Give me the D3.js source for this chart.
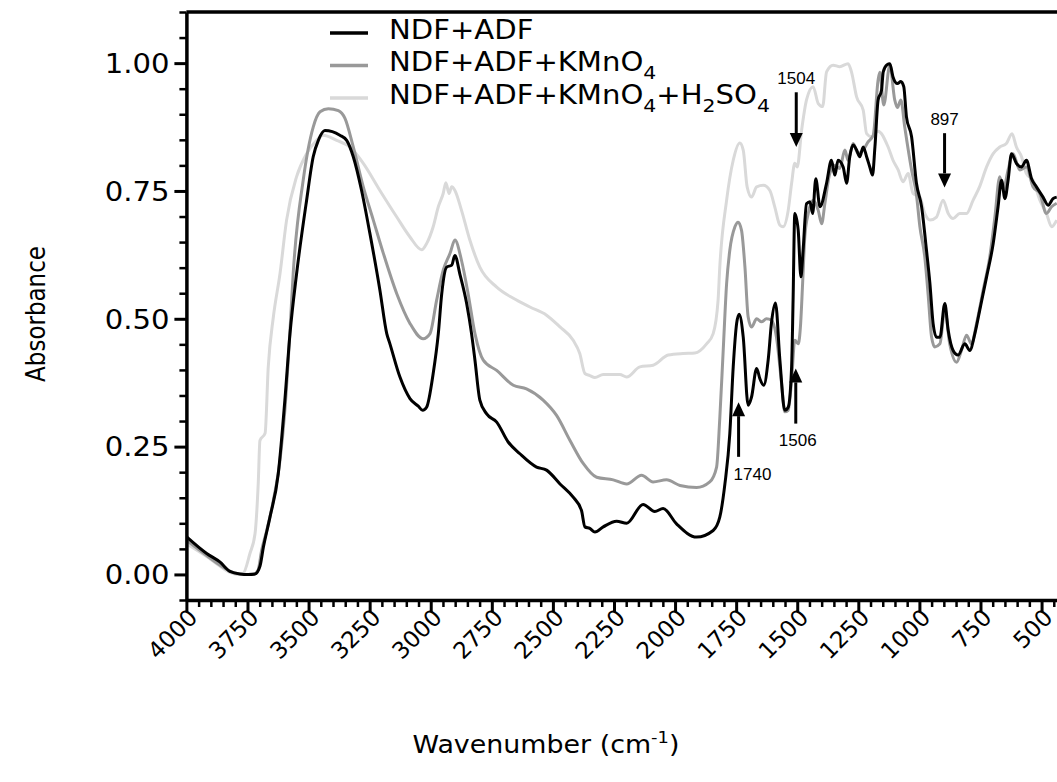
<!DOCTYPE html>
<html>
<head>
<meta charset="utf-8">
<script src="https://cdn.jsdelivr.net/npm/d3@7"></script>
<style>
  body { margin: 0; background: #fff; }
  svg text { font-family: "DejaVu Sans", Verdana, sans-serif; fill: #000; }
</style>
</head>
<body>
<svg id="chart" width="1057" height="782"></svg>
<script>
// spectra: [wavenumber (cm-1), absorbance]
const ndfAdf = [[4000,0.074],[3917,0.041],[3862,0.024],[3822,0.006],[3781,0.001],[3747,0.000],[3719,0.001],[3699,0.016],[3685,0.053],[3658,0.112],[3624,0.197],[3597,0.341],[3576,0.471],[3549,0.588],[3508,0.732],[3481,0.817],[3460,0.849],[3433,0.868],[3372,0.859],[3344,0.849],[3317,0.817],[3283,0.751],[3249,0.667],[3208,0.556],[3180,0.471],[3167,0.451],[3126,0.386],[3085,0.344],[3051,0.329],[3033,0.321],[3017,0.327],[2990,0.393],[2969,0.471],[2955,0.549],[2935,0.601],[2914,0.605],[2901,0.624],[2881,0.588],[2853,0.530],[2833,0.471],[2819,0.419],[2799,0.341],[2771,0.314],[2730,0.298],[2683,0.259],[2635,0.236],[2567,0.210],[2526,0.204],[2471,0.177],[2417,0.151],[2383,0.125],[2369,0.093],[2349,0.090],[2328,0.083],[2294,0.093],[2239,0.104],[2198,0.100],[2131,0.137],[2083,0.123],[2049,0.129],[1994,0.099],[1912,0.073],[1844,0.086],[1817,0.112],[1796,0.177],[1776,0.275],[1762,0.406],[1748,0.491],[1738,0.509],[1721,0.464],[1701,0.331],[1687,0.347],[1666,0.403],[1653,0.383],[1637,0.370],[1619,0.419],[1605,0.494],[1589,0.531],[1571,0.419],[1551,0.321],[1537,0.327],[1523,0.406],[1517,0.536],[1510,0.706],[1496,0.673],[1485,0.582],[1476,0.634],[1462,0.725],[1448,0.729],[1437,0.706],[1424,0.774],[1407,0.719],[1380,0.765],[1360,0.810],[1346,0.781],[1333,0.810],[1312,0.797],[1298,0.765],[1285,0.817],[1271,0.840],[1257,0.830],[1244,0.817],[1230,0.836],[1216,0.817],[1203,0.797],[1192,0.781],[1182,0.836],[1169,0.928],[1155,0.947],[1148,0.983],[1132,0.997],[1121,0.999],[1108,0.973],[1090,0.960],[1076,0.964],[1064,0.954],[1053,0.895],[1032,0.856],[1012,0.765],[991,0.719],[971,0.634],[957,0.569],[944,0.491],[930,0.464],[916,0.464],[896,0.530],[882,0.477],[862,0.438],[842,0.429],[814,0.451],[794,0.438],[773,0.471],[753,0.517],[725,0.582],[698,0.647],[678,0.719],[664,0.771],[650,0.735],[637,0.771],[623,0.823],[603,0.804],[582,0.797],[562,0.810],[541,0.774],[521,0.758],[494,0.738],[473,0.722],[453,0.735],[438,0.738]];

const ndfAdfKmno4 = [[4000,0.067],[3917,0.037],[3862,0.018],[3809,0.004],[3760,0.000],[3727,0.000],[3707,0.008],[3692,0.047],[3671,0.086],[3644,0.145],[3617,0.223],[3597,0.321],[3576,0.477],[3563,0.588],[3522,0.771],[3481,0.875],[3453,0.905],[3419,0.911],[3378,0.907],[3351,0.892],[3317,0.836],[3276,0.758],[3235,0.693],[3194,0.628],[3139,0.549],[3085,0.491],[3031,0.461],[3003,0.471],[2976,0.536],[2949,0.595],[2921,0.628],[2901,0.654],[2874,0.614],[2847,0.549],[2819,0.471],[2785,0.419],[2730,0.399],[2662,0.370],[2608,0.363],[2540,0.341],[2485,0.311],[2430,0.262],[2376,0.217],[2321,0.190],[2253,0.185],[2198,0.177],[2137,0.194],[2090,0.181],[2035,0.185],[1980,0.174],[1912,0.170],[1858,0.181],[1830,0.210],[1817,0.305],[1803,0.438],[1789,0.569],[1776,0.634],[1755,0.680],[1742,0.689],[1728,0.673],[1714,0.601],[1701,0.504],[1687,0.484],[1666,0.500],[1646,0.494],[1626,0.500],[1605,0.497],[1585,0.464],[1564,0.373],[1551,0.318],[1537,0.321],[1523,0.380],[1510,0.458],[1496,0.451],[1486,0.491],[1478,0.569],[1469,0.660],[1455,0.706],[1435,0.732],[1414,0.712],[1400,0.686],[1387,0.725],[1367,0.784],[1346,0.800],[1326,0.794],[1305,0.830],[1292,0.810],[1271,0.843],[1251,0.823],[1230,0.830],[1210,0.846],[1189,0.859],[1169,0.967],[1162,0.982],[1146,0.918],[1121,0.996],[1101,0.928],[1090,0.913],[1076,0.928],[1060,0.875],[1032,0.791],[1012,0.742],[998,0.680],[978,0.621],[964,0.546],[950,0.464],[937,0.445],[916,0.451],[896,0.517],[876,0.451],[848,0.415],[828,0.438],[807,0.468],[787,0.451],[766,0.491],[739,0.556],[712,0.621],[691,0.699],[671,0.778],[657,0.751],[637,0.791],[617,0.823],[589,0.791],[562,0.797],[535,0.758],[507,0.745],[480,0.706],[459,0.719],[438,0.726]];

const ndfAdfKmno4H2so4 = [[4000,0.060],[3917,0.035],[3862,0.016],[3822,0.004],[3793,0.000],[3768,0.002],[3740,0.041],[3719,0.080],[3706,0.178],[3699,0.262],[3678,0.276],[3665,0.406],[3644,0.504],[3617,0.588],[3590,0.693],[3549,0.778],[3508,0.823],[3467,0.849],[3440,0.859],[3385,0.849],[3331,0.836],[3276,0.804],[3208,0.751],[3139,0.699],[3085,0.660],[3037,0.635],[3017,0.647],[2990,0.680],[2969,0.719],[2949,0.745],[2938,0.766],[2925,0.745],[2914,0.758],[2901,0.751],[2874,0.712],[2840,0.654],[2799,0.601],[2730,0.562],[2662,0.540],[2594,0.523],[2526,0.507],[2471,0.484],[2417,0.458],[2390,0.432],[2369,0.393],[2349,0.389],[2328,0.385],[2294,0.391],[2226,0.391],[2198,0.386],[2144,0.406],[2090,0.409],[2028,0.429],[1967,0.432],[1919,0.433],[1871,0.451],[1844,0.471],[1824,0.536],[1817,0.601],[1789,0.732],[1762,0.810],[1735,0.844],[1721,0.830],[1705,0.758],[1687,0.738],[1666,0.758],[1639,0.761],[1612,0.751],[1592,0.719],[1571,0.683],[1558,0.680],[1537,0.712],[1523,0.765],[1510,0.804],[1500,0.797],[1482,0.869],[1462,0.928],[1435,0.954],[1414,0.921],[1396,0.915],[1380,0.983],[1353,0.996],[1326,0.993],[1292,0.999],[1278,0.983],[1257,0.934],[1230,0.908],[1216,0.862],[1196,0.856],[1169,0.867],[1128,0.836],[1108,0.810],[1087,0.791],[1067,0.768],[1046,0.784],[1026,0.745],[998,0.738],[978,0.706],[957,0.693],[930,0.699],[903,0.732],[882,0.706],[862,0.696],[835,0.706],[807,0.706],[780,0.732],[753,0.759],[725,0.797],[698,0.823],[671,0.836],[644,0.843],[621,0.862],[603,0.836],[582,0.817],[562,0.784],[535,0.771],[507,0.732],[480,0.706],[459,0.680],[438,0.693]];

const seriesNames = ["NDF+ADF", "NDF+ADF+KMnO4", "NDF+ADF+KMnO4+H2SO4"];
const seriesColors = ["#000000", "#999999", "#d9d9d9"];
const xTickValues = [4000, 3750, 3500, 3250, 3000, 2750, 2500, 2250, 2000, 1750, 1500, 1250, 1000, 750, 500];
const yTickValues = [0, 0.25, 0.5, 0.75, 1.0];

// marked bands: wavenumber, arrow tip / tail absorbance
const peakLabels = ["1740", "1506", "1504", "897"];
const peakWn = [1740, 1506, 1504, 897];
const peakTip = [0.337, 0.403, 0.836, 0.757];
const peakTail = [0.230, 0.295, 0.943, 0.863];

const svg = d3.select("#chart");
const stretch = 1.12; // the source font looks a little wide

const x = d3.scaleLinear().domain([4000, 400]).range([186.4, 1066]);
const y = d3.scaleLinear().domain([-0.05, 1.10]).range([600, 12]);

svg.append("clipPath").attr("id", "plot")
  .append("rect").attr("x", 186).attr("y", 10).attr("width", 900).attr("height", 590);

const line = d3.line()
  .x(d => x(d[0]))
  .y(d => y(d[1]))
  .curve(d3.curveMonotoneX);

// light one underneath, black on top
const allSeries = [ndfAdf, ndfAdfKmno4, ndfAdfKmno4H2so4];
const plot = svg.append("g").attr("clip-path", "url(#plot)");
[2, 1, 0].forEach(i => {
  plot.append("path")
    .datum(allSeries[i])
    .attr("d", line)
    .attr("fill", "none")
    .attr("stroke", seriesColors[i])
    .attr("stroke-width", 3)
    .attr("stroke-linejoin", "round");
});

// x axis
const xMinor = d3.range(4000, 399, -50).filter(d => d % 250 !== 0);
const gxMinor = svg.append("g").attr("transform", "translate(0,600)")
  .call(d3.axisBottom(x).tickValues(xMinor).tickSize(7).tickFormat(""));
gxMinor.select(".domain").remove();
gxMinor.selectAll(".tick line").attr("stroke-width", 2.5);

const gx = svg.append("g").attr("transform", "translate(0,600)")
  .call(d3.axisBottom(x).tickValues(xTickValues).tickSize(12).tickSizeOuter(0).tickFormat(d3.format("d")));
gx.select(".domain").attr("stroke-width", 3.5);
gx.selectAll(".tick line").attr("stroke-width", 3);
gx.selectAll(".tick text")
  .attr("x", null).attr("y", null).attr("dy", null)
  .attr("text-anchor", "end")
  .attr("transform", "translate(12,19) rotate(-45)")
  .style("font-size", "23px");

// y axis
const yMinor = d3.range(-1, 23).filter(i => i % 5 !== 0).map(i => i * 0.05);
const gyMinor = svg.append("g").attr("transform", "translate(186.4,0)")
  .call(d3.axisLeft(y).tickValues(yMinor).tickSize(7).tickFormat(""));
gyMinor.select(".domain").remove();
gyMinor.selectAll(".tick line").attr("stroke-width", 2.5);

const gy = svg.append("g").attr("transform", "translate(186.4,0)")
  .call(d3.axisLeft(y).tickValues(yTickValues).tickSize(12).tickSizeOuter(0).tickFormat(d3.format(".2f")));
gy.select(".domain").attr("stroke-width", 3.5);
gy.selectAll(".tick line").attr("stroke-width", 3);
gy.selectAll(".tick text")
  .attr("x", -15).attr("dy", "0.36em")
  .attr("transform", `scale(${stretch},1)`)
  .style("font-size", "26px");

// top frame line
svg.append("line")
  .attr("x1", 186.4).attr("x2", 1057)
  .attr("y1", y(1.10)).attr("y2", y(1.10))
  .attr("stroke", "#000").attr("stroke-width", 3.5);

// writes digits of a formula as subscripts
function addFormula(textSel, str, size) {
  const parts = str.match(/\d+|\D+/g);
  let low = false;
  parts.forEach(p => {
    const isNum = /\d/.test(p);
    const t = textSel.append("tspan").text(p);
    if (isNum) {
      t.style("font-size", (size * 0.7) + "px").attr("dy", low ? null : size * 0.3);
      low = true;
    } else {
      t.style("font-size", size + "px");
      if (low) t.attr("dy", -size * 0.3);
      low = false;
    }
  });
}

// legend
seriesNames.forEach((name, i) => {
  const rowY = 33 + i * 32.5;
  svg.append("line")
    .attr("x1", 330).attr("x2", 368)
    .attr("y1", rowY).attr("y2", rowY)
    .attr("stroke", seriesColors[i]).attr("stroke-width", 3.5);
  const t = svg.append("g").attr("transform", `translate(389,${rowY}) scale(${stretch},1)`)
    .append("text").attr("dy", "0.36em");
  addFormula(t, name, 26);
});

// axis titles
svg.append("text")
  .attr("transform", `translate(45,314) rotate(-90) scale(1,${stretch})`)
  .attr("text-anchor", "middle")
  .style("font-size", "23px")
  .text("Absorbance");

const xt = svg.append("g").attr("transform", `translate(546,753) scale(${stretch},1)`)
  .append("text").attr("text-anchor", "middle").style("font-size", "24px");
xt.append("tspan").text("Wavenumber (cm");
xt.append("tspan").text("-1").style("font-size", "16px").attr("dy", -10);
xt.append("tspan").text(")").attr("dy", 10);

// band arrows
const ann = svg.append("g");
peakLabels.forEach((lab, i) => {
  const ax = x(peakWn[i]);
  const tip = y(peakTip[i]);
  const tail = y(peakTail[i]);
  const dir = tip > tail ? 1 : -1; // 1 = pointing down
  const head = 14;
  ann.append("line")
    .attr("x1", ax).attr("x2", ax)
    .attr("y1", tail).attr("y2", tip - dir * head)
    .attr("stroke", "#000").attr("stroke-width", 3);
  ann.append("path")
    .attr("d", `M${ax - 6.5},${tip - dir * head}L${ax + 6.5},${tip - dir * head}L${ax},${tip}Z`)
    .attr("fill", "#000");
  const txt = ann.append("text")
    .style("font-family", "'Liberation Sans', Arial, sans-serif")
    .style("font-size", "17px")
    .text(lab);
  if (dir === 1) {
    txt.attr("x", ax).attr("y", tail - 8).attr("text-anchor", "middle");
  } else if (lab === "1740") {
    txt.attr("x", ax - 5).attr("y", tail + 23).attr("text-anchor", "start");
  } else {
    txt.attr("x", ax + 2).attr("y", tail + 22).attr("text-anchor", "middle");
  }
});
</script>
</body>
</html>
